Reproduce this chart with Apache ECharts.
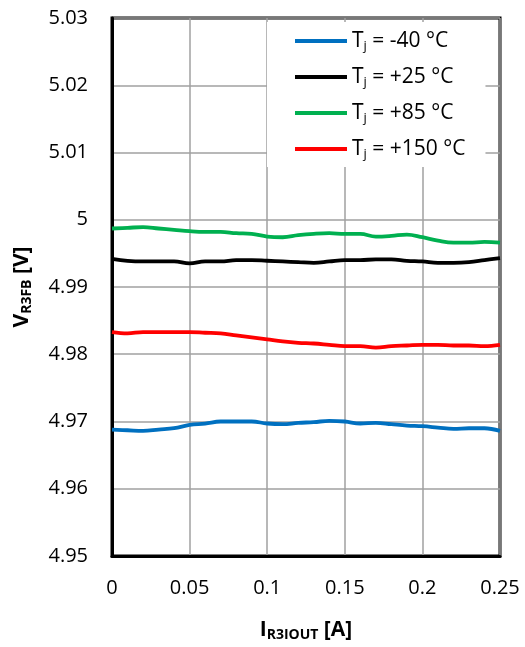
<!DOCTYPE html>
<html>
<head>
<meta charset="utf-8">
<script src="https://cdn.jsdelivr.net/npm/echarts@6/dist/echarts.min.js"></script>
<style>
  html, body { margin: 0; padding: 0; background: #fff; }
  #chart { width: 525px; height: 647px; }
</style>
</head>
<body>
<div id="chart"></div>
<script>
// load current, A (every 0.01 A)
var current = [0, 0.01, 0.02, 0.03, 0.04, 0.05, 0.06, 0.07, 0.08, 0.09, 0.10, 0.11, 0.12,
    0.13, 0.14, 0.15, 0.16, 0.17, 0.18, 0.19, 0.20, 0.21, 0.22, 0.23, 0.24, 0.25];

// V_R3FB per junction temperature
var vMinus40 = [4.9688, 4.9687, 4.9686, 4.9688, 4.9690, 4.9695, 4.9697, 4.9700, 4.9700, 4.9700,
    4.9697, 4.9696, 4.9698, 4.9699, 4.9701, 4.9700, 4.9697, 4.9698, 4.9696, 4.9694,
    4.9693, 4.9691, 4.9689, 4.9690, 4.9690, 4.9686];
var vPlus25 = [4.9942, 4.9939, 4.9938, 4.9938, 4.9938, 4.9935, 4.9938, 4.9938, 4.9940, 4.9940,
    4.9939, 4.9938, 4.9937, 4.9936, 4.9938, 4.9940, 4.9940, 4.9941, 4.9941, 4.9939,
    4.9938, 4.9936, 4.9936, 4.9937, 4.9940, 4.9943];
var vPlus85 = [4.9987, 4.9988, 4.9989, 4.9987, 4.9985, 4.9983, 4.9982, 4.9982, 4.9980, 4.9979,
    4.9975, 4.9974, 4.9977, 4.9979, 4.9980, 4.9979, 4.9979, 4.9975, 4.9976, 4.9978,
    4.9974, 4.9969, 4.9966, 4.9966, 4.9967, 4.9966];
var vPlus150 = [4.9833, 4.9831, 4.9833, 4.9833, 4.9833, 4.9833, 4.9832, 4.9831, 4.9828, 4.9825,
    4.9822, 4.9819, 4.9817, 4.9816, 4.9814, 4.9812, 4.9812, 4.9810, 4.9812, 4.9813,
    4.9814, 4.9814, 4.9813, 4.9813, 4.9812, 4.9814];

var seriesNames = ['-40', '+25', '+85', '+150'];
var seriesColors = ['#0070C0', '#000000', '#00B050', '#FF0000'];
var seriesValues = [vMinus40, vPlus25, vPlus85, vPlus150];

var fontName = 'Open Sans';

function pairs(xs, ys) {
    var out = [];
    for (var i = 0; i < xs.length; i++) {
        out.push([xs[i], ys[i]]);
    }
    return out;
}

var series = [];
for (var i = 0; i < seriesNames.length; i++) {
    series.push({
        name: seriesNames[i],
        type: 'line',
        smooth: 0.4,
        symbol: 'none',
        lineStyle: { color: seriesColors[i], width: 3.8 },
        itemStyle: { color: seriesColors[i] },
        data: pairs(current, seriesValues[i])
    });
}

var chart = echarts.init(document.getElementById('chart'));
var option = {
    animation: false,
    backgroundColor: '#fff',
    grid: {
        left: 112,
        top: 18,
        right: 25,
        bottom: 90,
        show: true,
        borderColor: '#000',
        borderWidth: 3,
        containLabel: false
    },
    legend: {
        orient: 'vertical',
        left: 267,
        top: 22,
        padding: [7, 20, 6, 28],
        backgroundColor: '#fff',
        itemWidth: 52,
        itemHeight: 4,
        itemGap: 12,
        icon: 'rect',
        data: seriesNames,
        formatter: function (name) {
            return '{t|T}{s|j}{t| = ' + name + ' \u00b0C}';
        },
        textStyle: {
            rich: {
                t: { fontFamily: fontName, fontSize: 21, color: '#000', lineHeight: 24 },
                s: { fontFamily: fontName, fontSize: 13, color: '#000', lineHeight: 24, padding: [11, 0, 0, 0] }
            }
        }
    },
    xAxis: {
        type: 'value',
        min: 0,
        max: 0.25,
        interval: 0.05,
        name: '{b|I}{s|R3IOUT}{b| [A]}',
        nameLocation: 'middle',
        nameGap: 62,
        nameTextStyle: {
            rich: {
                b: { fontFamily: fontName, fontSize: 21, fontWeight: 'bold', color: '#000' },
                s: { fontFamily: fontName, fontSize: 14, fontWeight: 'bold', color: '#000', padding: [10, 0, 0, 0] }
            }
        },
        axisLine: { show: true, onZero: false, lineStyle: { color: '#000', width: 3 } },
        axisTick: { show: false },
        axisLabel: {
            margin: 22,
            fontFamily: fontName,
            fontSize: 20,
            color: '#000',
            formatter: function (v) { return String(parseFloat(v.toFixed(2))); }
        },
        splitLine: { show: true, lineStyle: { color: '#a0a0a0', width: 1.5 } }
    },
    yAxis: {
        type: 'value',
        min: 4.95,
        max: 5.03,
        interval: 0.01,
        name: '{b|V}{s|R3FB}{b| [V]}',
        nameLocation: 'middle',
        nameRotate: 90,
        nameGap: 78,
        nameTextStyle: {
            rich: {
                b: { fontFamily: fontName, fontSize: 21, fontWeight: 'bold', color: '#000' },
                s: { fontFamily: fontName, fontSize: 14, fontWeight: 'bold', color: '#000', padding: [10, 0, 0, 0] }
            }
        },
        axisLine: { show: true, lineStyle: { color: '#000', width: 3 } },
        axisTick: { show: false },
        axisLabel: {
            margin: 24,
            fontFamily: fontName,
            fontSize: 20,
            color: '#000',
            formatter: function (v) { return String(parseFloat(v.toFixed(2))); }
        },
        splitLine: { show: true, lineStyle: { color: '#a0a0a0', width: 1.5 } }
    },
    series: series
};
chart.setOption(option);
</script>
</body>
</html>
